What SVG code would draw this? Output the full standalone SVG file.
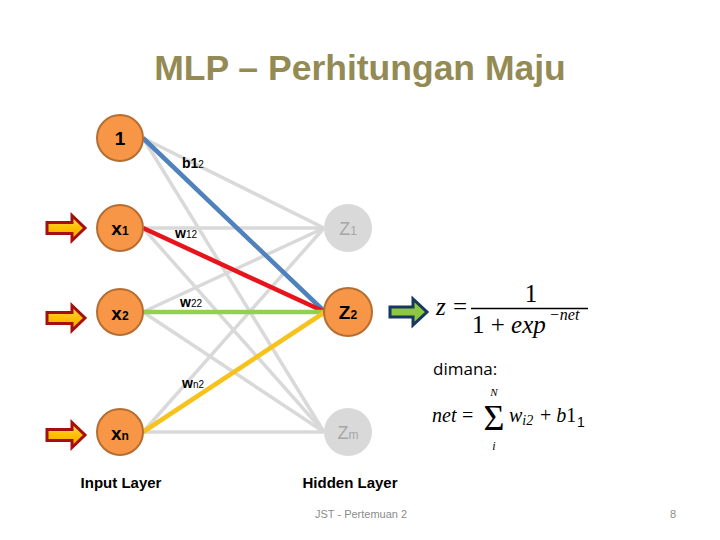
<svg xmlns="http://www.w3.org/2000/svg" width="720" height="540" viewBox="0 0 720 540">
<defs>
<linearGradient id="gold" x1="0" y1="0" x2="0" y2="1">
<stop offset="0" stop-color="#FFE066"/>
<stop offset="0.5" stop-color="#FFC000"/>
<stop offset="1" stop-color="#F5A800"/>
</linearGradient>
<path id="inArrow" d="M0,-5.5 L25,-5.5 L25,-12.5 L38,0 L25,12.5 L25,5.5 L0,5.5 Z"/>
</defs>
<style>
.title{font-family:"Liberation Sans",Arial,sans-serif;font-weight:bold;font-size:35.5px;fill:#948A54}
.g{stroke:#D9D9D9;stroke-width:3.5;fill:none}
.c{stroke-width:4.5;fill:none}
.node{fill:#F79646;stroke:#B66D31;stroke-width:2}
.gnode{fill:#D9D9D9}
.nl{font-family:"Liberation Sans",Arial,sans-serif;font-weight:bold;font-size:19px;fill:#000}
.gl{font-family:"Liberation Sans",Arial,sans-serif;font-size:18px;fill:#A6A6A6}
.sub{font-size:12px}
.el{font-family:"Liberation Sans",Arial,sans-serif;font-weight:bold;font-size:14px;fill:#000}
.es{font-size:10px;font-weight:normal}
.ia{fill:url(#gold);stroke:#A50F0F;stroke-width:3;stroke-linejoin:miter}
.math{font-family:"Liberation Serif","DejaVu Serif",serif;fill:#000}
.lay{font-family:"Liberation Sans",Arial,sans-serif;font-weight:bold;font-size:15px;fill:#000}
.foot{font-family:"Liberation Sans",Arial,sans-serif;font-size:11px;fill:#8C8C8C}
</style>
<rect width="720" height="540" fill="#FFFFFF"/>
<text class="title" x="360" y="80" text-anchor="middle">MLP – Perhitungan Maju</text>

<g id="connectors">
<line class="g" x1="143" y1="138" x2="324" y2="228"/>
<line class="g" x1="143" y1="138" x2="324" y2="432"/>
<line class="g" x1="143" y1="228" x2="324" y2="228"/>
<line class="g" x1="143" y1="228" x2="324" y2="432"/>
<line class="g" x1="143" y1="312" x2="324" y2="228"/>
<line class="g" x1="143" y1="312" x2="324" y2="432"/>
<line class="g" x1="143" y1="432" x2="324" y2="228"/>
<line class="g" x1="143" y1="432" x2="324" y2="432"/>
<line class="c" stroke="#4F81BD" x1="143" y1="138" x2="325" y2="312"/>
<line class="c" stroke="#E8141B" x1="143" y1="228" x2="325" y2="312"/>
<line class="c" stroke="#92D050" x1="143" y1="312" x2="325" y2="312"/>
<line class="c" stroke="#F6C21B" x1="143" y1="432" x2="325" y2="312"/>
</g>

<g id="edge-labels">
<text class="el" x="182" y="168">b1<tspan class="es">2</tspan></text>
<text class="el" x="175" y="238">w<tspan class="es">12</tspan></text>
<text class="el" x="180" y="307">w<tspan class="es">22</tspan></text>
<text class="el" x="182" y="388">w<tspan class="es">n2</tspan></text>
</g>

<g id="input-arrows">
<use href="#inArrow" class="ia" x="47" y="228"/>
<use href="#inArrow" class="ia" x="47" y="318"/>
<use href="#inArrow" class="ia" x="47" y="435"/>
</g>

<g id="node-bias">
<circle class="node" cx="120" cy="138" r="23"/>
<text class="nl" x="120" y="145" text-anchor="middle" font-size="21">1</text>
</g>
<g id="node-x1">
<circle class="node" cx="120" cy="228" r="23"/>
<text class="nl" x="120" y="235" text-anchor="middle">x<tspan class="sub">1</tspan></text>
</g>
<g id="node-x2">
<circle class="node" cx="120" cy="312" r="23"/>
<text class="nl" x="120" y="320" text-anchor="middle">x<tspan class="sub">2</tspan></text>
</g>
<g id="node-xn">
<circle class="node" cx="120" cy="432" r="23"/>
<text class="nl" x="120" y="440" text-anchor="middle">x<tspan class="sub">n</tspan></text>
</g>

<g id="node-z1">
<circle class="gnode" cx="348" cy="228" r="24"/>
<text class="gl" x="348" y="235" text-anchor="middle">Z<tspan class="sub">1</tspan></text>
</g>
<g id="node-z2">
<circle class="node" cx="348" cy="312" r="24"/>
<text class="nl" x="348" y="319" text-anchor="middle" font-weight="bold" font-size="18">Z<tspan class="sub">2</tspan></text>
</g>
<g id="node-zm">
<circle class="gnode" cx="348" cy="432" r="24"/>
<text class="gl" x="348" y="439" text-anchor="middle">Z<tspan class="sub">m</tspan></text>
</g>

<g id="out-arrow">
<path d="M390,307 L413,307 L413,299 L427,312 L413,325 L413,317 L390,317 Z" fill="#8DC63F" stroke="#17375E" stroke-width="3"/>
</g>

<g id="formula-z">
<text class="math" x="436" y="315" font-size="25" font-style="italic">z</text>
<text class="math" x="453" y="315" font-size="25">=</text>
<line x1="471" y1="308.5" x2="588" y2="308.5" stroke="#000" stroke-width="1.3"/>
<text class="math" x="531" y="302" font-size="25" text-anchor="middle">1</text>
<text class="math" x="472" y="333" font-size="25">1 + <tspan font-style="italic">exp</tspan></text>
<text class="math" x="549" y="320" font-size="16" font-style="italic">−net</text>
</g>

<text x="433" y="375" font-family="'Open Sans','Liberation Sans',sans-serif" font-size="17" fill="#000">dimana:</text>

<g id="formula-net">
<text class="math" x="432" y="422" font-size="20" font-style="italic">net</text>
<text class="math" x="462" y="422" font-size="20">=</text>
<text class="math" x="494" y="430" font-size="36" text-anchor="middle">Σ</text>
<text class="math" x="494" y="396" font-size="11" font-style="italic" text-anchor="middle">N</text>
<text class="math" x="494" y="450" font-size="12" font-style="italic" text-anchor="middle">i</text>
<text class="math" x="509" y="422" font-size="20" font-style="italic">w<tspan font-size="14" dy="3">i2</tspan></text>
<text class="math" x="540" y="422" font-size="20">+ <tspan font-style="italic">b</tspan>1</text>
<text x="577" y="427" font-family="'Liberation Sans',sans-serif" font-size="14" fill="#000">1</text>
</g>

<text class="lay" x="121" y="488" text-anchor="middle">Input Layer</text>
<text class="lay" x="350" y="488" text-anchor="middle">Hidden Layer</text>
<text class="foot" x="315" y="518">JST - Pertemuan 2</text>
<text class="foot" x="673" y="518" text-anchor="middle">8</text>
</svg>
